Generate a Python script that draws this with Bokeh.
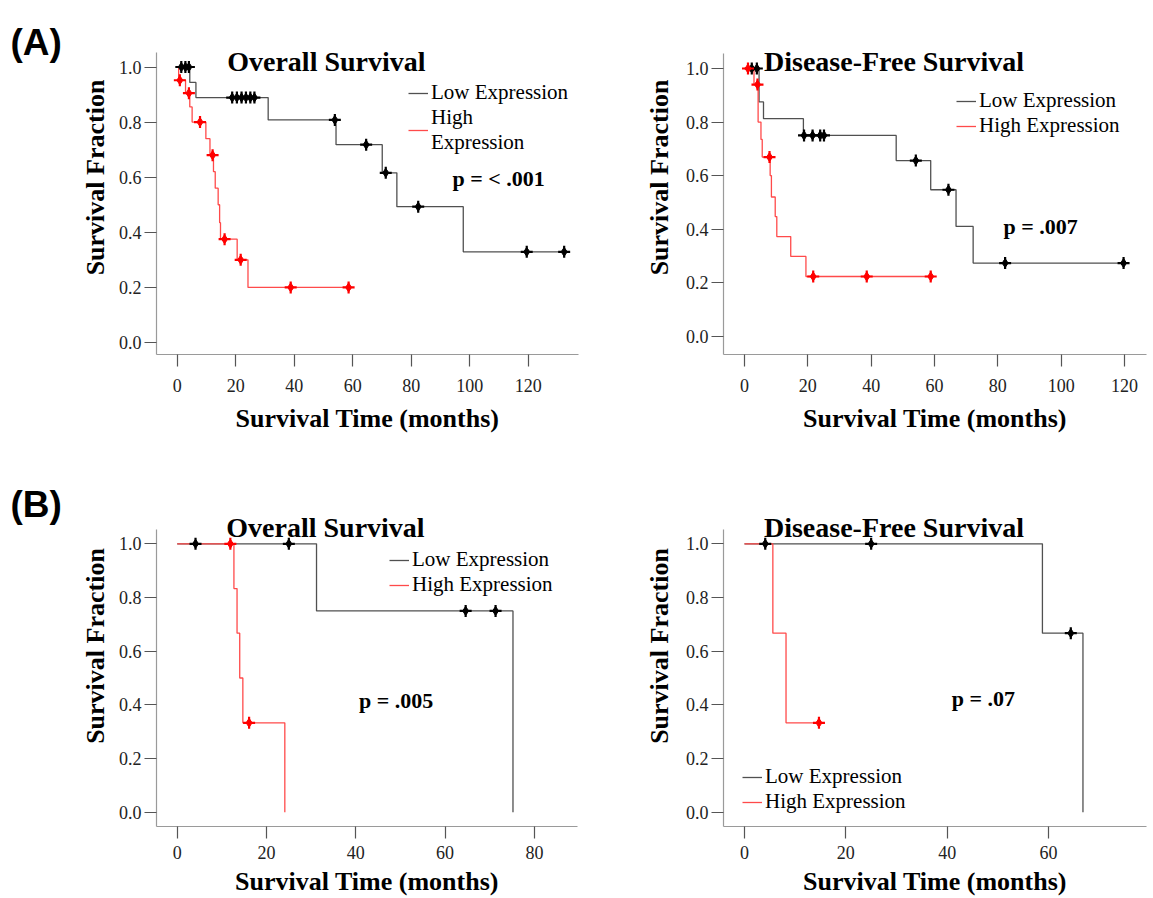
import numpy as np
from bokeh.plotting import figure
from bokeh.models import (Range1d, FixedTicker, PrintfTickFormatter, Label,
                          Legend, LegendItem, ColumnDataSource)
from bokeh.layouts import column, row
from bokeh.embed import file_html
from bokeh.resources import INLINE

# ---------------- data (months, survival fraction) ----------------
# (A) Overall survival
a_os_low_t = [0, 4.3, 6.4, 31.1, 54.3, 70.1, 75.1, 97.8, 132.3]
a_os_low_s = [1.0, 0.944, 0.889, 0.808, 0.718, 0.616, 0.493, 0.329, 0.329]
a_os_low_cens = [1.4, 2.8, 4.0, 18.8, 20.4, 22.0, 23.5, 25.0, 26.4, 53.9, 64.6, 71.3, 82.4, 119.5, 132.3]
a_os_high_t = [0, 0.5, 2.85, 4.3, 5.1, 9.8, 11.2, 12.4, 13.0, 14.0, 14.5, 14.8, 20.5, 24.2, 58.6]
a_os_high_s = [1.0, 0.952, 0.905, 0.855, 0.80, 0.74, 0.68, 0.62, 0.56, 0.50, 0.435, 0.375, 0.30, 0.20, 0.20]
a_os_high_cens = [0.9, 4.0, 7.8, 12.1, 16.2, 21.7, 38.8, 58.6]

# (A) Disease-free survival
a_dfs_low_t = [0, 4.6, 6.0, 18.6, 47.9, 58.8, 66.8, 72.2, 119.7]
a_dfs_low_s = [1.0, 0.875, 0.8125, 0.75, 0.656, 0.547, 0.41, 0.273, 0.273]
a_dfs_low_cens = [2.3, 3.9, 18.8, 21.5, 23.9, 25.1, 54.1, 64.4, 82.3, 119.7]
a_dfs_high_t = [0, 3.0, 4.3, 5.2, 5.6, 8.1, 8.5, 9.7, 10.2, 14.6, 19.4, 58.8]
a_dfs_high_s = [1.0, 0.94, 0.80, 0.735, 0.669, 0.60, 0.52, 0.447, 0.372, 0.298, 0.223, 0.223]
a_dfs_high_cens = [1.1, 4.1, 7.9, 21.7, 38.6, 58.8]

# (B) Overall survival
b_os_low_t = [0, 31.2, 75.2]
b_os_low_s = [1.0, 0.75, 0.0]
b_os_low_cens = [4.1, 25.0, 64.6, 71.3]
b_os_high_t = [0, 12.7, 13.4, 14.0, 14.7, 24.1]
b_os_high_s = [1.0, 0.833, 0.667, 0.5, 0.333, 0.0]
b_os_high_cens = [11.9, 16.1]

# (B) Disease-free survival
b_dfs_low_t = [0, 58.8, 66.8]
b_dfs_low_s = [1.0, 0.667, 0.0]
b_dfs_low_cens = [4.1, 25.0, 64.4]
b_dfs_high_t = [0, 5.6, 8.2, 14.7]
b_dfs_high_s = [1.0, 0.667, 0.333, 0.333]
b_dfs_high_cens = [14.7]

titles = ["Overall Survival", "Disease-Free Survival", "Overall Survival", "Disease-Free Survival"]
p_values = ["p = < .001", "p = .007", "p = .005", "p = .07"]
series_names = ["Low Expression", "High Expression"]
panel_tags = ["(A)", "(B)"]
y_ticks = [0.0, 0.2, 0.4, 0.6, 0.8, 1.0]

SERIF = "Liberation Serif"
SANS = "Liberation Sans"
LOW_LINE = "#505050"
HIGH_LINE = "#ff4a4a"


def censor_y(t, s, c):
    t = np.asarray(t, float)
    s = np.asarray(s, float)
    idx = np.searchsorted(t, np.asarray(c, float), side="right") - 1
    return s[idx]


def panel(cfg):
    p = figure(width=cfg["w"], height=cfg["h"], output_backend="svg",
               toolbar_location=None,
               x_range=Range1d(*cfg["xr"]), y_range=Range1d(*cfg["yr"]),
               min_border_left=cfg["bl"], min_border_right=cfg["br"],
               min_border_top=0, min_border_bottom=cfg["bb"])
    p.outline_line_color = None
    p.xgrid.visible = False
    p.ygrid.visible = False
    p.xaxis.ticker = FixedTicker(ticks=cfg["xticks"])
    p.yaxis.ticker = FixedTicker(ticks=y_ticks)
    p.yaxis.formatter = PrintfTickFormatter(format="%.1f")
    p.yaxis.bounds = (cfg["yr"][0], cfg["ytop"])
    for ax in (p.xaxis[0], p.yaxis[0]):
        ax.axis_line_color = "#9a9a9a"
        ax.axis_line_width = 1.2
        ax.major_tick_line_color = "#555555"
        ax.major_tick_line_width = 1.2
        ax.major_tick_out = 12
        ax.major_tick_in = 0
        ax.minor_tick_out = 0
        ax.minor_tick_in = 0
        ax.major_label_text_font = SERIF
        ax.major_label_text_font_size = "18px"
        ax.major_label_text_color = "#222222"
        ax.axis_label_text_font = SERIF
        ax.axis_label_text_font_size = "26px"
        ax.axis_label_text_font_style = "bold"
        ax.axis_label_text_color = "black"
    p.yaxis.major_label_standoff = 3
    p.xaxis.major_label_standoff = cfg["xls"]
    p.xaxis.axis_label = "Survival Time (months)"
    p.xaxis.axis_label_standoff = cfg["xas"]
    p.yaxis.axis_label = "Survival Fraction"
    p.yaxis.axis_label_standoff = cfg["yas"]

    low_t, low_s, low_c, high_t, high_s, high_c = cfg["data"]
    r_low = p.step(x=low_t, y=low_s, mode="after", line_color=LOW_LINE, line_width=1.3)
    r_high = p.step(x=high_t, y=high_s, mode="after", line_color=HIGH_LINE, line_width=1.3)

    for c, t, s, col in ((low_c, low_t, low_s, "black"), (high_c, high_t, high_s, "#ff0000")):
        src = ColumnDataSource(dict(x=c, y=censor_y(t, s, c)))
        p.scatter("x", "y", source=src, marker="diamond", size=9, fill_color=col, line_color=col)
        p.scatter("x", "y", source=src, marker="cross", size=12, line_color=col, line_width=2.2)

    legend = Legend(items=[LegendItem(label=series_names[0], renderers=[r_low]),
                           LegendItem(label=cfg["high_label"], renderers=[r_high])],
                    location=cfg["leg"], orientation="vertical",
                    label_text_font=SERIF, label_text_font_size="21px",
                    label_text_color="black", glyph_width=20, glyph_height=24,
                    label_height=24, label_standoff=3, spacing=0, padding=0,
                    margin=0, border_line_color=None, background_fill_alpha=0)
    p.add_layout(legend)

    tx, ty = cfg["title_pos"]
    p.add_layout(Label(x=tx, y=ty, text=cfg["title"], text_font=SERIF,
                       text_font_size="28px", text_font_style="bold",
                       text_align="center", text_baseline="alphabetic", text_color="black"))
    px_, py_ = cfg["p_pos"]
    p.add_layout(Label(x=px_, y=py_, text=cfg["pval"], text_font=SERIF,
                       text_font_size="22px", text_font_style="bold",
                       text_align="left", text_baseline="alphabetic", text_color="black"))
    return p


def tag_fig(text, w, h, bb, baseline_from_top):
    fh = h - bb
    f = figure(width=w, height=h, output_backend="svg", toolbar_location=None,
               x_range=Range1d(0, w), y_range=Range1d(0, fh),
               x_axis_type=None, y_axis_type=None,
               min_border_left=0, min_border_right=0, min_border_top=0,
               min_border_bottom=bb)
    f.outline_line_color = None
    f.grid.visible = False
    f.add_layout(Label(x=10, y=fh - baseline_from_top, text=text, text_font=SANS,
                       text_font_size="37px", text_font_style="bold",
                       text_align="left", text_baseline="alphabetic", text_color="black"))
    return f


TOP_H, BOT_H = 465, 433
TAG_W = 74

tagA = tag_fig(panel_tags[0], TAG_W, TOP_H, 111, 41.7)
A1 = panel(dict(w=600 - TAG_W, h=TOP_H, bl=156 - TAG_W, br=22, bb=111,
                xr=(-7.08, 137.2), yr=(-0.0436, 1.2414), ytop=1.053,
                xticks=[0, 20, 40, 60, 80, 100, 120], xls=12, xas=9, yas=6,
                data=(a_os_low_t, a_os_low_s, a_os_low_cens, a_os_high_t, a_os_high_s, a_os_high_cens),
                high_label="High\nExpression", leg=(252, 199),
                title=titles[0], title_pos=(51.0, 1.020),
                pval=p_values[0], p_pos=(94.1, 0.597)))

A2 = panel(dict(w=550, h=TOP_H, bl=123, br=4, bb=111,
                xr=(-6.63, 126.94), yr=(-0.0684, 1.254), ytop=1.056,
                xticks=[0, 20, 40, 60, 80, 100, 120], xls=12, xas=9, yas=9,
                data=(a_dfs_low_t, a_dfs_low_s, a_dfs_low_cens, a_dfs_high_t, a_dfs_high_s, a_dfs_high_cens),
                high_label=series_names[1], leg=(233, 216),
                title=titles[1], title_pos=(47.2, 1.027),
                pval=p_values[1], p_pos=(81.8, 0.41)))

tagB = tag_fig(panel_tags[1], TAG_W, BOT_H, 72, 39)
B1 = panel(dict(w=600 - TAG_W, h=BOT_H, bl=156 - TAG_W, br=23, bb=72,
                xr=(-4.64, 89.65), yr=(-0.0533, 1.2917), ytop=1.053,
                xticks=[0, 20, 40, 60, 80], xls=7, xas=5, yas=6,
                data=(b_os_low_t, b_os_low_s, b_os_low_cens, b_os_high_t, b_os_high_s, b_os_high_cens),
                high_label=series_names[1], leg=(233, 229),
                title=titles[2], title_pos=(33.2, 1.059),
                pval=p_values[2], p_pos=(40.7, 0.416)))

B2 = panel(dict(w=550, h=BOT_H, bl=123, br=4, bb=72,
                xr=(-4.14, 79.34), yr=(-0.0533, 1.2917), ytop=1.053,
                xticks=[0, 20, 40, 60], xls=7, xas=5, yas=9,
                data=(b_dfs_low_t, b_dfs_low_s, b_dfs_low_cens, b_dfs_high_t, b_dfs_high_s, b_dfs_high_cens),
                high_label=series_names[1], leg=(19, 12),
                title=titles[3], title_pos=(29.5, 1.059),
                pval=p_values[3], p_pos=(40.9, 0.4225)))

layout = column(row(tagA, A1, A2, spacing=0), row(tagB, B1, B2, spacing=0), spacing=0)
open("out.html", "w").write(file_html(layout, INLINE))
